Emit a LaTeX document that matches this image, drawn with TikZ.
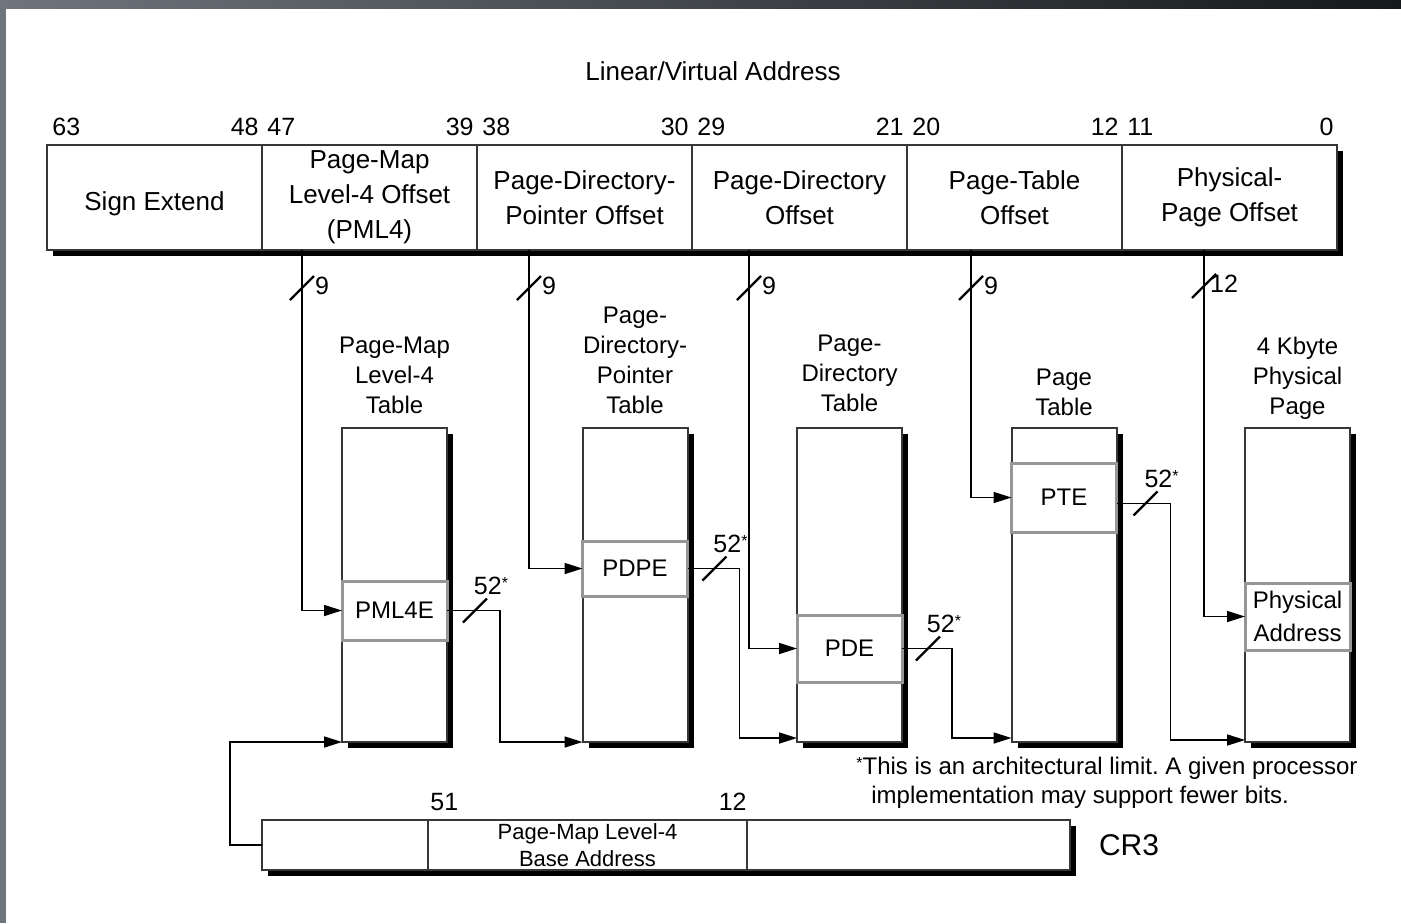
\documentclass[tikz,border=0pt]{standalone}
\usepackage{fontspec}
\setmainfont{Liberation Sans}
\usetikzlibrary{positioning,arrows.meta,shadows}
\frenchspacing

\definecolor{frameA}{RGB}{110,117,124}
\definecolor{frameB}{RGB}{62,66,72}
\definecolor{frameC}{RGB}{22,24,26}
\definecolor{boxline}{RGB}{55,55,55}
\definecolor{entryline}{RGB}{150,150,150}

\newcommand{\ttlfont}{\fontsize{13}{16}\selectfont}
\newcommand{\fldfont}{\fontsize{13}{17.5}\selectfont}
\newcommand{\bitsfont}{\fontsize{12.5}{15}\selectfont}
\newcommand{\tblfont}{\fontsize{12}{15}\selectfont}
\newcommand{\crbfont}{\fontsize{11}{13.5}\selectfont}
\newcommand{\crlfont}{\fontsize{15}{18}\selectfont}
\newcommand{\ftnfont}{\fontsize{12}{14.5}\selectfont}
\newcommand{\smallstar}{\raisebox{3pt}{\fontsize{8}{8}\selectfont*}}

\tikzset{
  boxshadow/.style={drop shadow={shadow xshift=3pt, shadow yshift=-3pt, fill=black, opacity=1}},
  field/.style={draw=boxline, line width=1pt, fill=white, outer sep=0pt, inner sep=0pt,
    minimum width=107.5pt, minimum height=52.5pt, align=center, font=\fldfont, boxshadow},
  crpart/.style={draw=boxline, line width=1pt, fill=white, outer sep=0pt, inner sep=0pt,
    minimum height=25pt, align=center, font=\crbfont, boxshadow},
  pagetable/.style={draw=boxline, line width=1pt, fill=white, outer sep=0pt,
    minimum width=52.5pt, minimum height=157pt, boxshadow},
  entry/.style={draw=entryline, line width=1.5pt, fill=white, outer sep=0pt, inner sep=0pt,
    minimum width=52.5pt, align=center, font=\tblfont},
  tlabel/.style={align=center, font=\tblfont, inner sep=1pt},
  bitnum/.style={font=\bitsfont, inner sep=0pt},
  note/.style={font=\ftnfont, inner sep=0pt, anchor=west},
  link/.style={line width=0.8pt, -{Triangle[length=9pt,width=5.5pt]}},
  tick/.style={line width=1.1pt},
  pics/inbus/.style={code={
    \draw[tick] (-6pt,-6pt) -- (6pt,6pt);
    \node[bitnum] (-w) at (10pt,1pt) {#1};}},
  pics/outbus/.style={code={
    \draw[tick] (-6pt,-6pt) -- (6pt,6pt);
    \node[bitnum] (-w) at (8pt,12.5pt) {#1};}}
}

\begin{document}
\begin{tikzpicture}[x=0.5pt, y=-0.5pt]
    \useasboundingbox (0,0) rectangle (1401,923);
    \shade[left color=frameA, middle color=frameB, right color=frameC] (0,0) rectangle (1401,8);
    \fill[frameA] (0,8) rectangle (6,923);

    \node[font=\ttlfont] (title) at (713,71) {Linear/Virtual Address};

    \node[field] (se) at (154.5,197.5) {\raisebox{-3pt}[9.4pt][2.7pt]{Sign Extend}};
    \node[field, right=0pt of se] (pml4) {Page-Map\\Level-4 Offset\\(PML4)};
    \node[field, right=0pt of pml4] (pdp) {Page-Directory-\\Pointer Offset};
    \node[field, right=0pt of pdp] (pd) {Page-Directory\\Offset};
    \node[field, right=0pt of pd] (pt) {Page-Table\\Offset};
    \node[field, right=0pt of pt] (ppo) {Physical-\\Page Offset};
    \foreach \f/\hi/\lo in {se/63/48, pml4/47/39, pdp/38/30, pd/29/21, pt/20/12, ppo/11/0} {
        \node[bitnum, anchor=base west] (\f-hi) at ([xshift=2.5pt, yshift=5pt]\f.north west) {\hi};
        \node[bitnum, anchor=base east] (\f-lo) at ([xshift=-1.5pt, yshift=5pt]\f.north east) {\lo};
    }

    \node[pagetable] (pml4t) at (394.5,585) {};
    \node[pagetable] (pdpt) at (635,585) {};
    \node[pagetable] (pdt) at (849.5,585) {};
    \node[pagetable] (ptt) at (1064,585) {};
    \node[pagetable] (pgt) at (1297.5,585) {};
    \node[tlabel, above=6pt of pml4t] (pml4t-name) {Page-Map\\Level-4\\Table};
    \node[tlabel, above=6pt of pdpt] (pdpt-name) {Page-\\Directory-\\Pointer\\Table};
    \node[tlabel, above=7pt of pdt] (pdt-name) {Page-\\Directory\\Table};
    \node[tlabel, above=5pt of ptt] (ptt-name) {Page\\Table};
    \node[tlabel, above=3pt of pgt] (pgt-name) {4 Kbyte\\Physical\\Page};

    \node[entry, minimum height=29.5pt] (pml4e) at (394.5,610.5) {PML4E};
    \node[entry, minimum height=27.5pt] (pdpe) at (635,568.5) {PDPE};
    \node[entry, minimum height=33.5pt] (pde) at (849.5,648.5) {PDE};
    \node[entry, minimum height=34.5pt] (pte) at (1064,497.5) {PTE};
    \node[entry, minimum height=33.5pt, font=\fontsize{12}{16.5}\selectfont] (paddr) at (1297.5,616.5) {Physical\\Address};

    \draw[link] ([xshift=20pt]pml4.south west) -- ++(0,38) coordinate (b1) |- (pml4e.west);
    \draw[link] ([xshift=26pt]pdp.south west) -- ++(0,38) coordinate (b2) |- (pdpe.west);
    \draw[link] ([xshift=28.5pt]pd.south west) -- ++(0,38) coordinate (b3) |- (pde.west);
    \draw[link] ([xshift=32pt]pt.south west) -- ++(0,38) coordinate (b4) |- (pte.west);
    \draw[link] ([xshift=41pt]ppo.south west) -- ++(0,36) coordinate (b5) |- (paddr.west);
    \pic (w1) at (b1) {inbus=9};
    \pic (w2) at (b2) {inbus=9};
    \pic (w3) at (b3) {inbus=9};
    \pic (w4) at (b4) {inbus=9};
    \pic (w5) at (b5) {inbus=12};

    \draw[link] (pml4e.east) -- ++(28,0) coordinate (c1) -- ++(25,0) |- (pdpt.south west);
    \draw[link] (pdpe.east) -- ++(27,0) coordinate (c2) -- ++(25,0) |- ([yshift=2pt]pdt.south west);
    \draw[link] (pde.east) -- ++(26,0) coordinate (c3) -- ++(24,0) |- ([yshift=2pt]ptt.south west);
    \draw[link] ([yshift=-3pt]pte.east) -- ++(29,0) coordinate (c4) -- ++(25,0) |- ([yshift=1pt]pgt.south west);
    \pic (w6) at (c1) {outbus=52\smallstar};
    \pic (w7) at (c2) {outbus=52\smallstar};
    \pic (w8) at (c3) {outbus=52\smallstar};
    \pic (w9) at (c4) {outbus=52\smallstar};

    \node[crpart, minimum width=83pt] (cr3a) at (345,845) {};
    \node[crpart, minimum width=159.5pt, right=0pt of cr3a] (cr3b) {Page-Map Level-4\\Base Address};
    \node[crpart, minimum width=161.5pt, right=0pt of cr3b] (cr3c) {};
    \node[bitnum, anchor=base west] (cr3-hi) at ([xshift=1pt, yshift=5pt]cr3b.north west) {51};
    \node[bitnum, anchor=base east] (cr3-lo) at ([yshift=5pt]cr3b.north east) {12};
    \node[font=\crlfont, right=11pt of cr3c] (cr3) {CR3};
    \draw[link] (cr3a.west) -- ++(-32,0) |- (pml4t.south west);

    \node[note] (note1) at (856,768) {\smallstar This is an architectural limit. A given processor};
    \node[note] (note2) at (871,797) {implementation may support fewer bits.};
\end{tikzpicture}
\end{document}
